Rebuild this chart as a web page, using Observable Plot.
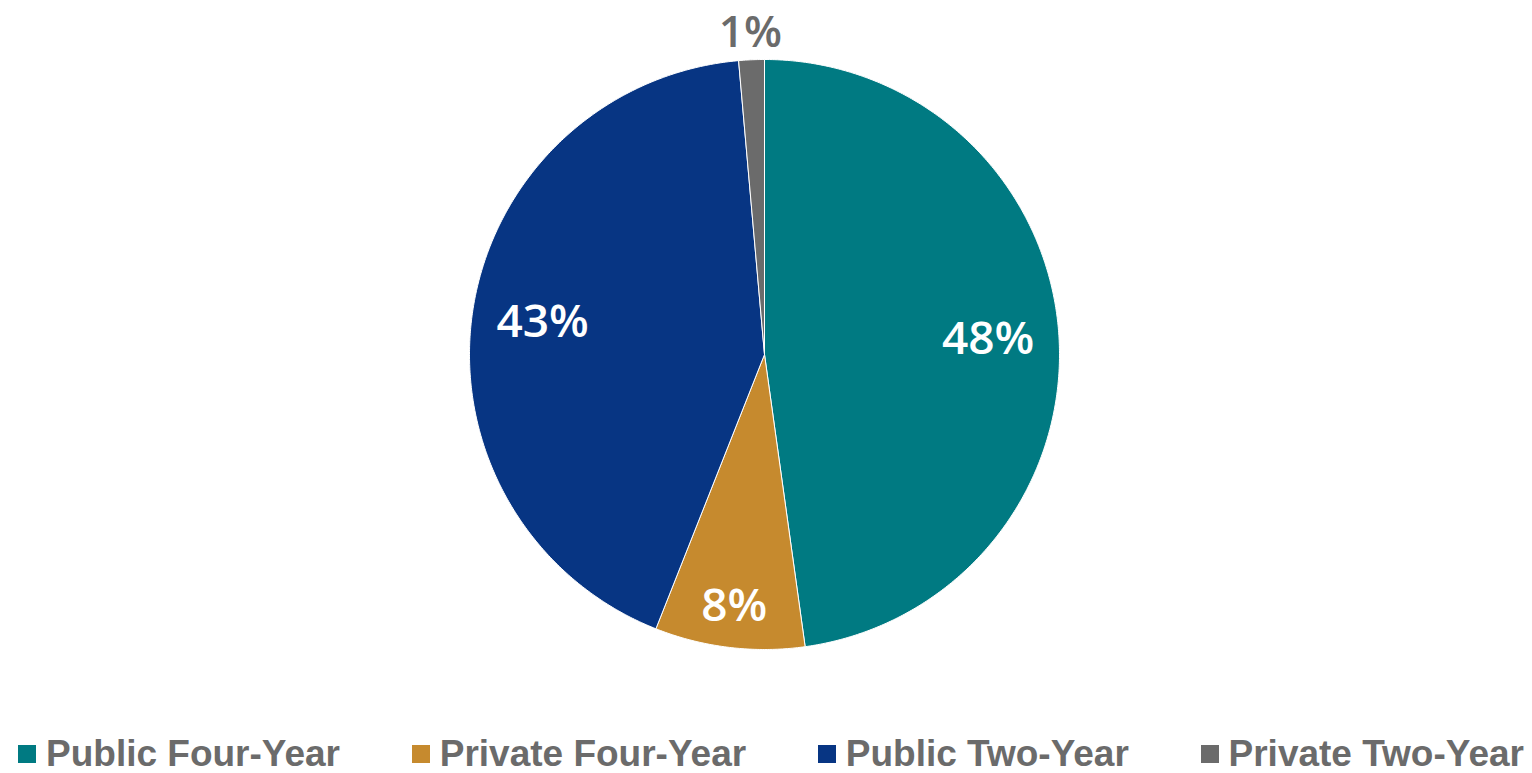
<!DOCTYPE html>
<html>
<head>
<meta charset="utf-8">
<script src="https://cdn.jsdelivr.net/npm/d3@7"></script>
<script src="https://cdn.jsdelivr.net/npm/@observablehq/plot@0.6"></script>
<style>
  html, body { margin: 0; padding: 0; background: #fff; }
  #chart svg { display: block; }
  #legend {
    display: flex; justify-content: space-between; align-items: center;
    padding: 22px 8px 0 18px; height: 61px; box-sizing: border-box;
    font-family: "Liberation Sans", Arial, sans-serif; font-weight: bold;
    font-size: 37px; color: #6b6b6b; white-space: nowrap;
  }
  .item { display: flex; align-items: center; }
  .sw { width: 18px; height: 18px; margin-right: 10px; }
</style>
</head>
<body>
<div id="chart"></div>
<div id="legend"></div>
<script>
// Data
const categories = ["Public Four-Year", "Private Four-Year", "Public Two-Year", "Private Two-Year"];
const values = [47.8, 8.2, 42.6, 1.4];
const labels = ["48%", "8%", "43%", "1%"];
const colors = ["#007a82", "#c68a2e", "#073583", "#6b6b6b"];

// Layout
const W = 1532, H = 712;
const cx = 764, cy = 354, R = 295;

const total = d3.sum(values);
let acc = 0;
const slices = values.map((v, i) => {
  const a0 = acc / total * 2 * Math.PI;
  acc += v;
  const a1 = acc / total * 2 * Math.PI;
  return {cat: categories[i], v, label: labels[i], a0, a1, mid: (a0 + a1) / 2};
});

// Polygon points per slice in unit-radius coordinates (angle from top, clockwise)
const pts = [];
for (const s of slices) {
  pts.push({cat: s.cat, x: 0, y: 0});
  const n = Math.max(4, Math.ceil((s.a1 - s.a0) / (Math.PI / 360)));
  for (let k = 0; k <= n; k++) {
    const a = s.a0 + (s.a1 - s.a0) * k / n;
    pts.push({cat: s.cat, x: Math.sin(a), y: Math.cos(a)});
  }
  pts.push({cat: s.cat, x: 0, y: 0});
}

const labelPts = slices.map(s => {
  const outside = s.v < 3;
  const r = outside ? 1.09 : (s.v < 10 ? 0.86 : 0.76);
  return {label: s.label, outside, x: Math.sin(s.mid) * r, y: Math.cos(s.mid) * r};
});

const chart = Plot.plot({
  width: W, height: H,
  margin: 0,
  x: {domain: [-cx / R, (W - cx) / R], range: [0, W], axis: null},
  y: {domain: [-(H - cy) / R, cy / R], range: [H, 0], axis: null},
  color: {domain: categories, range: colors},
  marks: [
    Plot.line(pts, {x: "x", y: "y", z: "cat", fill: "cat", stroke: "white", strokeWidth: 1, curve: "linear"}),
    Plot.text(labelPts.filter(d => !d.outside), {x: "x", y: "y", text: "label", fill: "white",
      fontSize: 46, fontWeight: 600, fontFamily: "Open Sans"}),
    Plot.text(labelPts.filter(d => d.outside), {x: "x", y: "y", text: "label", fill: "#6b6b6b",
      fontSize: 44, fontWeight: 600, fontFamily: "Open Sans"})
  ]
});
document.getElementById("chart").append(chart);

const leg = d3.select("#legend");
categories.forEach((c, i) => {
  const it = leg.append("div").attr("class", "item");
  it.append("div").attr("class", "sw").style("background", colors[i]);
  it.append("span").text(c);
});
</script>
</body>
</html>
